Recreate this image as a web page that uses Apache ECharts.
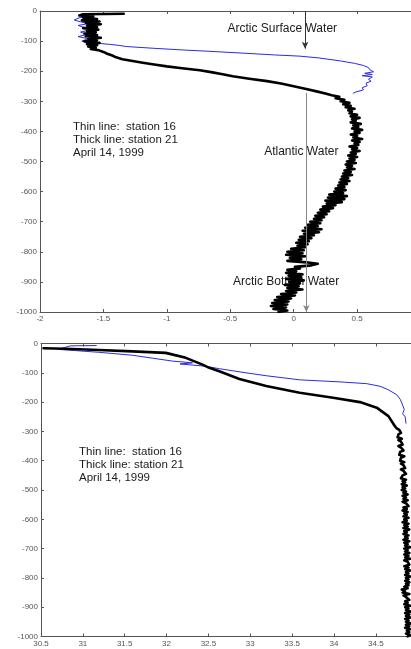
<!DOCTYPE html>
<html>
<head>
<meta charset="utf-8">
<script src="https://cdn.jsdelivr.net/npm/echarts@6/dist/echarts.min.js"></script>
<style>
html,body{margin:0;padding:0;background:#fff;}
#c{width:411px;height:649px;}
</style>
</head>
<body>
<div id="c"></div>
<script>
// ---------- DATA ----------
var tempTicks = [-2, -1.5, -1, -0.5, 0, 0.5];
var salTicks = [30.5, 31, 31.5, 32, 32.5, 33, 33.5, 34, 34.5];

// station 16 (thin line) temperature profile [T, depth]
var tempSt16 = [
 [-1.64,-18],[-1.70,-24],[-1.73,-30],[-1.68,-36],[-1.62,-42],[-1.70,-48],[-1.65,-55],
 [-1.60,-62],[-1.68,-70],[-1.63,-78],[-1.70,-85],[-1.62,-92],[-1.67,-100],[-1.58,-106],
 [-1.52,-108],[-1.45,-111],[-1.38,-114],[-1.32,-118],[-1.10,-124],[-0.85,-130],[-0.66,-134],
 [-0.40,-140],[-0.15,-146],[0.05,-150],[0.20,-156],[0.37,-166],[0.48,-174],[0.55,-181],
 [0.59,-188],[0.60,-195],[0.63,-202],[0.56,-207],[0.62,-211],[0.54,-215],[0.62,-219],
 [0.59,-227],[0.61,-233],[0.57,-240],[0.58,-248],[0.54,-255],[0.55,-262],[0.49,-269],[0.47,-273]
];

// station 21 (thick line) temperature profile, upper part [T, depth]
var tempSt21Upper = [
 [-1.34,-9],[-1.66,-11],[-1.69,-15],[-1.58,-18],[-1.66,-22],[-1.55,-27],[-1.67,-31],[-1.53,-35],
 [-1.64,-39],[-1.52,-44],[-1.63,-48],[-1.55,-53],[-1.66,-57],[-1.54,-62],[-1.63,-66],[-1.56,-71],
 [-1.65,-75],[-1.55,-80],[-1.64,-84],[-1.52,-89],[-1.62,-93],[-1.55,-97],[-1.65,-101],[-1.53,-106],
 [-1.63,-110],[-1.55,-114],[-1.62,-118],[-1.56,-122],[-1.60,-126],[-1.54,-130],[-1.50,-136],
 [-1.47,-142],[-1.43,-148],[-1.40,-154],[-1.35,-160],[-1.27,-166],[-1.19,-172],[-1.10,-178],
 [-1.00,-184],[-0.88,-190],[-0.74,-197],[-0.64,-204],[-0.56,-210],[-0.48,-217],[-0.35,-225],
 [-0.21,-233],[-0.10,-241],[0.00,-250],[0.09,-258],[0.18,-267],[0.25,-274]
];
// station 21 temperature profile, deep part [T, depth]
var tempSt21Deep = [
 [0.30,-280],[0.36,-285],[0.33,-290],[0.40,-295],[0.37,-300],[0.44,-305],[0.39,-310],[0.45,-315],
 [0.41,-320],[0.48,-325],[0.43,-330],[0.46,-335],[0.44,-340],[0.50,-345],[0.45,-350],[0.52,-355],
 [0.46,-360],[0.49,-365],[0.45,-370],[0.53,-375],[0.47,-380],[0.51,-385],[0.46,-390],[0.54,-395],
 [0.48,-400],[0.52,-405],[0.45,-410],[0.50,-415],[0.47,-420],[0.54,-425],[0.46,-430],[0.52,-435],
 [0.48,-440],[0.51,-445],[0.44,-450],[0.50,-455],[0.46,-460],[0.52,-465],[0.45,-470],[0.49,-475],
 [0.43,-480],[0.50,-485],[0.44,-490],[0.48,-495],[0.42,-500],[0.49,-505],[0.41,-510],[0.46,-515],
 [0.42,-520],[0.48,-525],[0.40,-530],[0.45,-535],[0.39,-540],[0.46,-545],[0.38,-550],[0.43,-555],
 [0.37,-560],[0.44,-565],[0.36,-570],[0.42,-575],[0.35,-580],[0.40,-585],[0.33,-590],[0.41,-595],
 [0.32,-600],[0.39,-605],[0.28,-610],[0.42,-615],[0.27,-620],[0.40,-625],[0.25,-630],[0.38,-635],
 [0.26,-640],[0.33,-645],[0.23,-650],[0.31,-655],[0.21,-660],[0.28,-665],[0.19,-670],[0.26,-675],
 [0.17,-680],[0.24,-685],[0.16,-690],[0.22,-695],[0.13,-700],[0.21,-705],[0.11,-710],[0.19,-715],
 [0.09,-720],[0.22,-725],[0.07,-730],[0.20,-735],[0.08,-740],[0.16,-745],[0.05,-750],[0.14,-755],
 [0.04,-760],[0.12,-765],[0.02,-770],[0.11,-775],[0.03,-780],[0.09,-785],[-0.02,-790],[0.08,-795],
 [-0.05,-800],[0.07,-805],[-0.06,-810],[0.09,-815],[-0.03,-820],[0.06,-825],[-0.05,-830],[0.10,-835],
 [0.19,-840],[0.14,-845],[0.01,-850],[0.05,-855],[-0.05,-860],[0.02,-865],[-0.06,-870],[0.07,-875],
 [-0.04,-880],[0.06,-885],[-0.06,-890],[0.08,-895],[-0.03,-900],[0.05,-905],[-0.07,-910],[0.04,-915],
 [-0.05,-920],[0.07,-925],[-0.06,-930],[0.02,-935],[-0.10,-940],[0.01,-945],[-0.13,-950],[-0.02,-955],
 [-0.15,-960],[-0.04,-965],[-0.17,-970],[-0.05,-975],[-0.18,-980],[-0.06,-985],[-0.16,-990],[-0.05,-995],
 [-0.12,-1000]
];

// station 16 (thin line) salinity profile [S, depth]
var salSt16 = [
 [31.16,-7],[30.85,-8],[30.78,-14],[30.70,-20],[30.90,-24],[31.19,-30],[31.59,-40],
 [31.83,-50],[32.07,-60],[32.31,-66],[32.16,-70],[32.45,-77],[32.63,-86],[32.90,-98],
 [33.19,-110],[33.59,-124],[34.07,-131],[34.39,-137],[34.55,-146],[34.65,-158],[34.75,-175],
 [34.79,-190],[34.81,-203],[34.84,-225],[34.82,-240],[34.85,-250],[34.86,-272]
];

// station 21 (thick line) salinity profile, upper part [S, depth]
var salSt21Upper = [
 [30.53,-16],[30.79,-18],[31.19,-22],[31.59,-27],[31.99,-32],[32.23,-49],[32.43,-72],
 [32.51,-83],[32.63,-95],[32.87,-121],[33.19,-145],[33.59,-168],[33.99,-185],[34.31,-200],
 [34.51,-219],[34.65,-248],[34.73,-283]
];
// station 21 salinity profile, deep part [S, depth]
var salSt21Deep = [
 [34.75,-290],[34.78,-295],[34.76,-300],[34.80,-305],[34.77,-310],[34.79,-315],[34.76,-320],[34.81,-325],
 [34.77,-330],[34.80,-335],[34.78,-340],[34.82,-345],[34.77,-350],[34.80,-355],[34.78,-360],[34.83,-365],
 [34.79,-370],[34.81,-375],[34.78,-380],[34.84,-385],[34.80,-390],[34.82,-395],[34.79,-400],[34.84,-405],
 [34.80,-410],[34.83,-415],[34.81,-420],[34.85,-425],[34.80,-430],[34.83,-435],[34.81,-440],[34.86,-445],
 [34.82,-450],[34.84,-455],[34.80,-460],[34.86,-465],[34.82,-470],[34.85,-475],[34.81,-480],[34.87,-485],
 [34.82,-490],[34.85,-495],[34.81,-500],[34.86,-505],[34.83,-510],[34.88,-515],[34.82,-520],[34.86,-525],
 [34.83,-530],[34.88,-535],[34.82,-540],[34.86,-545],[34.84,-550],[34.89,-555],[34.83,-560],[34.87,-565],
 [34.82,-570],[34.88,-575],[34.84,-580],[34.87,-585],[34.83,-590],[34.89,-595],[34.84,-600],[34.87,-605],
 [34.82,-610],[34.89,-615],[34.84,-620],[34.88,-625],[34.83,-630],[34.90,-635],[34.84,-640],[34.87,-645],
 [34.83,-650],[34.89,-655],[34.85,-660],[34.88,-665],[34.83,-670],[34.90,-675],[34.84,-680],[34.88,-685],
 [34.85,-690],[34.91,-695],[34.84,-700],[34.88,-705],[34.85,-710],[34.90,-715],[34.84,-720],[34.89,-725],
 [34.85,-730],[34.91,-735],[34.84,-740],[34.88,-745],[34.86,-750],[34.90,-755],[34.84,-760],[34.89,-765],
 [34.85,-770],[34.91,-775],[34.86,-780],[34.89,-785],[34.85,-790],[34.91,-795],[34.86,-800],[34.89,-805],
 [34.85,-810],[34.90,-815],[34.86,-820],[34.89,-825],[34.84,-830],[34.88,-835],[34.81,-840],[34.85,-845],
 [34.82,-850],[34.90,-855],[34.83,-860],[34.86,-865],[34.84,-870],[34.90,-875],[34.85,-880],[34.88,-885],
 [34.84,-890],[34.91,-895],[34.85,-900],[34.89,-905],[34.86,-910],[34.92,-915],[34.85,-920],[34.90,-925],
 [34.86,-930],[34.91,-935],[34.85,-940],[34.89,-945],[34.86,-950],[34.92,-955],[34.86,-960],[34.90,-965],
 [34.85,-970],[34.91,-975],[34.87,-980],[34.90,-985],[34.86,-990],[34.91,-995],[34.88,-1000]
];

// Annotations (top panel)
var annoText = ['Arctic Surface Water', 'Atlantic Water', 'Arctic Bottom Water'];
var annoT = [-0.09, 0.06, -0.06];
var annoDepth = [-60, -467, -899];
var arrowT = [0.09, 0.1];
var arrowFrom = [0, -272];
var arrowTo = [-125, -1000];

var legendLines = ['Thin line:  station 16', 'Thick line: station 21', 'April 14, 1999'];

// ---------- CHART ----------
var chart = echarts.init(document.getElementById('c'), null, {renderer: 'canvas'});
var FONT = '"Liberation Sans", Arial, sans-serif';
var axisGray = '#555';

function fmt(v) { return String(Math.round(v * 100) / 100); }

function xAxisCfg(grid, min, max, pos, labels) {
  return {
    type: 'value', gridIndex: grid, position: pos, min: min, max: max, interval: 0.5,
    splitLine: {show: false},
    axisLine: {show: true, onZero: false, lineStyle: {color: axisGray, width: 1}},
    axisTick: {show: true, inside: true, length: 3, lineStyle: {color: axisGray}},
    axisLabel: {show: labels, showMaxLabel: false, fontSize: 8, color: '#555', fontFamily: FONT,
                margin: 3, formatter: fmt}
  };
}
function yAxisCfg(grid) {
  return {
    type: 'value', gridIndex: grid, min: -1000, max: 0, interval: 100,
    splitLine: {show: false},
    axisLine: {show: true, onZero: false, lineStyle: {color: axisGray, width: 1}},
    axisTick: {show: true, inside: true, length: 3, lineStyle: {color: axisGray}},
    axisLabel: {fontSize: 8, color: '#555', fontFamily: FONT, margin: 3, formatter: fmt}
  };
}

var annoData = annoText.map(function (t, i) { return {name: t, value: [annoT[i], annoDepth[i]]}; });
var arrowColors = ['#333', '#888'];
var arrowData = arrowT.map(function (x, i) {
  return [{coord: [x, arrowFrom[i]], lineStyle: {color: arrowColors[i]}}, {coord: [x, arrowTo[i]]}];
});

function lineSeries(data, xi, yi, color, width, z) {
  return {
    type: 'line', xAxisIndex: xi, yAxisIndex: yi, z: z, data: data,
    showSymbol: false, clip: true, silent: true,
    lineStyle: {color: color, width: width, join: 'round', cap: 'round'}
  };
}

var option = {
  animation: false,
  backgroundColor: '#ffffff',
  grid: [
    {left: 40, right: 0, top: 11, bottom: 337},
    {left: 41, right: 0, top: 343.5, bottom: 12.5}
  ],
  xAxis: [
    xAxisCfg(0, tempTicks[0], 0.925, 'bottom', true),
    xAxisCfg(0, tempTicks[0], 0.925, 'top', false),
    xAxisCfg(1, salTicks[0], 34.92, 'bottom', true),
    xAxisCfg(1, salTicks[0], 34.92, 'top', false)
  ],
  yAxis: [yAxisCfg(0), yAxisCfg(1)],
  graphic: [
    {type: 'text', left: 73, top: 121, z: 10,
     style: {text: legendLines.join('\n'), fontSize: 11.5, lineHeight: 12.6, fill: '#1a1a1a', fontFamily: FONT}},
    {type: 'text', left: 79, top: 445, z: 10,
     style: {text: legendLines.join('\n'), fontSize: 11.5, lineHeight: 13.2, fill: '#1a1a1a', fontFamily: FONT}}
  ],
  series: [
    {
      type: 'scatter', xAxisIndex: 0, yAxisIndex: 0, z: 1, symbolSize: 0, silent: true,
      itemStyle: {opacity: 1},
      data: annoData,
      label: {show: true, position: 'inside', formatter: '{b}', fontSize: 12, color: '#1a1a1a',
              fontFamily: FONT, opacity: 1},
      markLine: {
        silent: true, symbol: ['none', 'arrow'], symbolSize: [5, 7], precision: 3,
        label: {show: false},
        lineStyle: {color: '#444', width: 1, type: 'solid', opacity: 1},
        emphasis: {disabled: true},
        data: arrowData
      }
    },
    lineSeries(tempSt16, 0, 0, '#2b2be0', 1, 2),
    lineSeries(tempSt21Upper.concat(tempSt21Deep), 0, 0, '#000000', 2.6, 3),
    lineSeries(salSt16, 2, 1, '#2b2be0', 1, 2),
    lineSeries(salSt21Upper.concat(salSt21Deep), 2, 1, '#000000', 2.6, 3)
  ]
};
chart.setOption(option);
</script>
</body>
</html>
